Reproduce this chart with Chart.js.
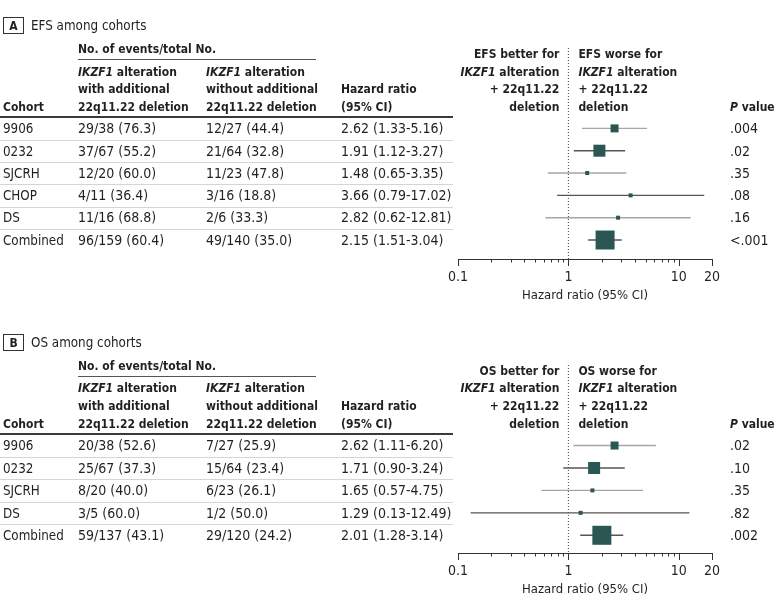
<!DOCTYPE html>
<html>
<head>
<meta charset="utf-8">
<script src="https://cdn.jsdelivr.net/npm/chart.js@4.4.1/dist/chart.umd.min.js"></script>
<style>
  html, body { margin: 0; padding: 0; background: #fff; }
  canvas { display: block; }
</style>
</head>
<body>
<canvas id="efs" width="780" height="304"></canvas>
<canvas id="os" width="780" height="303"></canvas>
<script>
// --- data ---
const efsCohorts = ['9906', '0232', 'SJCRH', 'CHOP', 'DS', 'Combined'];
const efsWithDel = ['29/38 (76.3)', '37/67 (55.2)', '12/20 (60.0)', '4/11 (36.4)', '11/16 (68.8)', '96/159 (60.4)'];
const efsWithoutDel = ['12/27 (44.4)', '21/64 (32.8)', '11/23 (47.8)', '3/16 (18.8)', '2/6 (33.3)', '49/140 (35.0)'];
const efsHR = [2.62, 1.91, 1.48, 3.66, 2.82, 2.15];
const efsLow = [1.33, 1.12, 0.65, 0.79, 0.62, 1.51];
const efsHigh = [5.16, 3.27, 3.35, 17.02, 12.81, 3.04];
const efsP = ['.004', '.02', '.35', '.08', '.16', '<.001'];

const osCohorts = ['9906', '0232', 'SJCRH', 'DS', 'Combined'];
const osWithDel = ['20/38 (52.6)', '25/67 (37.3)', '8/20 (40.0)', '3/5 (60.0)', '59/137 (43.1)'];
const osWithoutDel = ['7/27 (25.9)', '15/64 (23.4)', '6/23 (26.1)', '1/2 (50.0)', '29/120 (24.2)'];
const osHR = [2.62, 1.71, 1.65, 1.29, 2.01];
const osLow = [1.11, 0.90, 0.57, 0.13, 1.28];
const osHigh = [6.20, 3.24, 4.75, 12.49, 3.14];
const osP = ['.02', '.10', '.35', '.82', '.002'];

const tickValues = [0.1, 0.2, 0.3, 0.4, 0.5, 0.6, 0.7, 0.8, 0.9, 1, 2, 3, 4, 5, 6, 7, 8, 9, 10, 20];
const labeledTicks = [0.1, 1, 10, 20];

// --- styles ---
const FAMILY = "'DejaVu Sans Condensed', 'DejaVu Sans', sans-serif";
const INK = '#231f20';
const TEAL = '#2b5753';
const CI_TONE = { light: '#a6a6a6', dark: '#555555' };
const efsBox = [8, 12, 4, 4, 4, 19];
const osBox = [8, 12, 4, 4, 19];
const efsTone = ['light', 'dark', 'light', 'dark', 'light', 'dark'];
const osTone = ['light', 'dark', 'light', 'dark', 'dark'];

Chart.defaults.font.family = FAMILY;
Chart.defaults.color = INK;

function drawRuns(ctx, runs, x, y, align, weight, size) {
  const fonts = runs.map(r => `${r[1] ? 'italic ' : ''}${weight} ${size}px ${FAMILY}`);
  let w = 0;
  runs.forEach((r, k) => { ctx.font = fonts[k]; w += ctx.measureText(r[0]).width; });
  let cx = align === 'right' ? x - w : x;
  ctx.textAlign = 'left';
  runs.forEach((r, k) => {
    ctx.font = fonts[k];
    ctx.fillText(r[0], cx, y);
    cx += ctx.measureText(r[0]).width;
  });
}

function tablePlugin(p) {
  return {
    id: 'table_' + p.letter,
    afterDraw(chart) {
      const ctx = chart.ctx;
      const ys = chart.scales.y, xs = chart.scales.x;
      const py = v => ys.getPixelForValue(v);
      const base = 4.8; // middle -> alphabetic offset
      const HW = 'bold', HS = 12;
      ctx.save();
      ctx.fillStyle = INK;
      ctx.textBaseline = 'alphabetic';

      // panel letter + title
      const ty = py(-4.63);
      ctx.strokeStyle = '#333';
      ctx.lineWidth = 1;
      ctx.strokeRect(3.5, Math.round(ty) - 7.5, 20, 16);
      ctx.font = `bold 12px ${FAMILY}`;
      ctx.textAlign = 'center';
      ctx.fillText(p.letter, 13.5, Math.round(ty) + 4.8);
      ctx.font = `13.3px ${FAMILY}`;
      ctx.textAlign = 'left';
      ctx.fillText(p.title, 31, ty + base + 0.3);

      // header
      drawRuns(ctx, [['No. of events/total No.']], 78, py(-3.6) + base, 'left', HW, HS);
      ctx.strokeStyle = '#555';
      ctx.beginPath();
      ctx.moveTo(78, Math.round(py(-3.09)) + 0.5);
      ctx.lineTo(316, Math.round(py(-3.09)) + 0.5);
      ctx.stroke();

      const hl = [-2.58, -1.79, -1.0];
      drawRuns(ctx, [['IKZF1', true], [' alteration']], 78, py(hl[0]) + base, 'left', HW, HS);
      drawRuns(ctx, [['with additional']], 78, py(hl[1]) + base, 'left', HW, HS);
      drawRuns(ctx, [['22q11.22 deletion']], 78, py(hl[2]) + base, 'left', HW, HS);
      drawRuns(ctx, [['IKZF1', true], [' alteration']], 206, py(hl[0]) + base, 'left', HW, HS);
      drawRuns(ctx, [['without additional']], 206, py(hl[1]) + base, 'left', HW, HS);
      drawRuns(ctx, [['22q11.22 deletion']], 206, py(hl[2]) + base, 'left', HW, HS);
      drawRuns(ctx, [['Cohort']], 3, py(hl[2]) + base, 'left', HW, HS);
      drawRuns(ctx, [['Hazard ratio']], 341, py(hl[1]) + base, 'left', HW, HS);
      drawRuns(ctx, [['(95% CI)']], 341, py(hl[2]) + base, 'left', HW, HS);
      drawRuns(ctx, [['P', true], [' value']], 730, py(hl[2]) + base, 'left', HW, HS);

      // favour labels around HR = 1
      const x1 = xs.getPixelForValue(1);
      const fl = [-3.36, -2.58, -1.79, -1.0];
      const favour = [
        [[p.measure + ' better for']], [['IKZF1', true], [' alteration']], [['+ 22q11.22']], [['deletion']]
      ];
      const against = [
        [[p.measure + ' worse for']], [['IKZF1', true], [' alteration']], [['+ 22q11.22']], [['deletion']]
      ];
      favour.forEach((r, k) => drawRuns(ctx, r, x1 - 9, py(fl[k]) + base, 'right', HW, HS));
      against.forEach((r, k) => drawRuns(ctx, r, x1 + 10, py(fl[k]) + base, 'left', HW, HS));

      // rules
      ctx.strokeStyle = '#3a3a3a';
      ctx.lineWidth = 2;
      ctx.beginPath();
      ctx.moveTo(0, Math.round(py(-0.5)));
      ctx.lineTo(453, Math.round(py(-0.5)));
      ctx.stroke();
      ctx.strokeStyle = '#d6d6d0';
      ctx.lineWidth = 1;
      for (let i = 0; i < p.cohorts.length - 1; i++) {
        const ly = Math.round(py(i + 0.5)) + 0.5;
        ctx.beginPath();
        ctx.moveTo(0, ly);
        ctx.lineTo(453, ly);
        ctx.stroke();
      }

      // body rows
      ctx.textAlign = 'left';
      p.cohorts.forEach((c, i) => {
        const y = py(i) + base;
        ctx.font = `13.3px ${FAMILY}`;
        ctx.fillText(c, 3, y);
        ctx.font = `14px ${FAMILY}`;
        ctx.fillText(p.withDel[i], 78, y);
        ctx.fillText(p.withoutDel[i], 206, y);
        ctx.fillText(`${p.hr[i].toFixed(2)} (${p.low[i].toFixed(2)}-${p.high[i].toFixed(2)})`, 341, y);
        ctx.fillText(p.pv[i], 730, y);
      });

      // axis tick marks (pointing down)
      ctx.strokeStyle = '#333';
      ctx.lineWidth = 1;
      const top = xs.top;
      tickValues.forEach(v => {
        const tx = Math.round(xs.getPixelForValue(v)) + 0.5;
        const len = labeledTicks.includes(v) ? 7 : 3.5;
        ctx.beginPath();
        ctx.moveTo(tx, top);
        ctx.lineTo(tx, top + len);
        ctx.stroke();
      });
      ctx.restore();
    }
  };
}

function makePanel(id, p) {
  const datasets = [];
  datasets.push({
    data: p.hr.map((h, i) => ({ x: h, y: i })),
    pointStyle: 'rect',
    pointRadius: p.box.map(s => s / Math.SQRT2),
    backgroundColor: TEAL,
    borderColor: TEAL,
    borderWidth: 0,
    clip: false
  });
  p.low.forEach((lo, i) => {
    datasets.push({
      data: [{ x: lo, y: i }, { x: p.high[i], y: i }],
      showLine: true,
      pointRadius: 0,
      borderColor: CI_TONE[p.tone[i]],
      borderWidth: 1.4,
      clip: false
    });
  });
  datasets.push({
    data: [{ x: 1, y: p.yMin }, { x: 1, y: p.yMax }],
    showLine: true,
    pointRadius: 0,
    borderColor: '#444',
    borderWidth: 1,
    borderDash: [1, 2],
    clip: false
  });

  new Chart(document.getElementById(id), {
    type: 'scatter',
    data: { datasets },
    options: {
      responsive: false,
      animation: false,
      events: [],
      layout: { padding: { left: 458, right: 68, top: p.top, bottom: p.bottom } },
      plugins: { legend: { display: false }, tooltip: { enabled: false } },
      scales: {
        x: {
          type: 'logarithmic',
          min: 0.1,
          max: 20,
          grid: { display: false },
          border: { display: true, color: '#333', width: 1 },
          afterBuildTicks: s => { s.ticks = tickValues.map(v => ({ value: v })); },
          afterFit: s => { s.height = 45; },
          ticks: {
            autoSkip: false,
            maxRotation: 0,
            padding: 2,
            color: INK,
            font: { size: 14 },
            callback: v => labeledTicks.includes(v) ? String(v) : ''
          },
          title: {
            display: true,
            text: 'Hazard ratio (95% CI)',
            color: INK,
            font: { size: 13 },
            padding: { top: 0, bottom: 1 }
          }
        },
        y: { type: 'linear', reverse: true, min: p.yMin, max: p.yMax, display: false }
      }
    },
    plugins: [tablePlugin(p)]
  });
}

makePanel('efs', {
  letter: 'A', title: 'EFS among cohorts', measure: 'EFS',
  cohorts: efsCohorts, withDel: efsWithDel, withoutDel: efsWithoutDel,
  hr: efsHR, low: efsLow, high: efsHigh, pv: efsP,
  box: efsBox, tone: efsTone,
  top: 48, bottom: 0, yMin: -3.6, yMax: 5.85
});

makePanel('os', {
  letter: 'B', title: 'OS among cohorts', measure: 'OS',
  cohorts: osCohorts, withDel: osWithDel, withoutDel: osWithoutDel,
  hr: osHR, low: osLow, high: osHigh, pv: osP,
  box: osBox, tone: osTone,
  top: 61, bottom: 9, yMin: -3.59, yMax: 4.79
});
</script>
</body>
</html>
